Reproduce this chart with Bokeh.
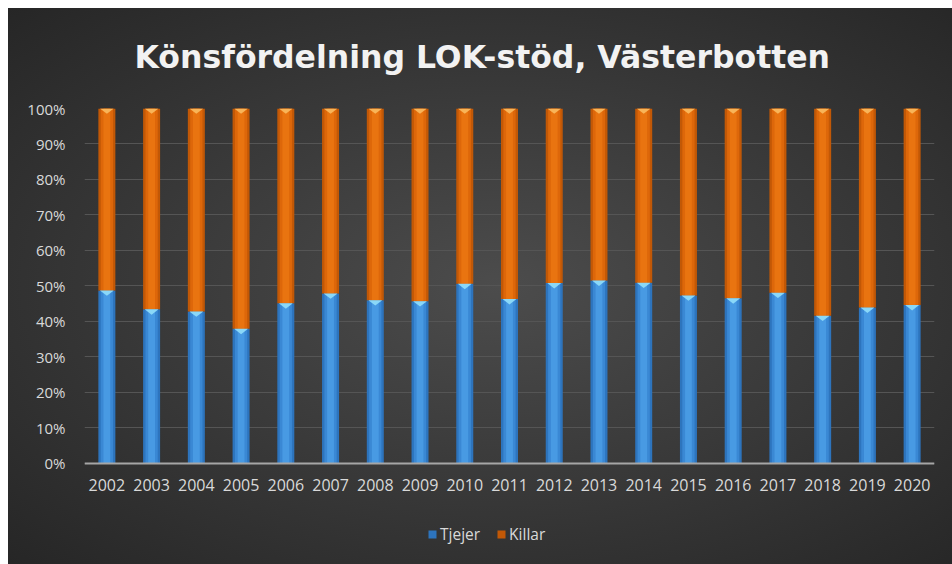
from bokeh.plotting import figure
from bokeh.models import Legend, LegendItem, PrintfTickFormatter, FixedTicker, ColumnDataSource, Range1d
from bokeh.embed import file_html
from bokeh.resources import INLINE

years = ["2002", "2003", "2004", "2005", "2006", "2007", "2008", "2009", "2010", "2011",
         "2012", "2013", "2014", "2015", "2016", "2017", "2018", "2019", "2020"]
tjejer = [48.7, 43.4, 42.8, 37.9, 45.1, 47.9, 46.0, 45.7, 50.6, 46.3,
          50.8, 51.5, 50.9, 47.3, 46.5, 48.1, 41.6, 43.9, 44.6]
killar = [51.3, 56.6, 57.2, 62.1, 54.9, 52.1, 54.0, 54.3, 49.4, 53.7,
          49.2, 48.5, 49.1, 52.7, 53.5, 51.9, 58.4, 56.1, 55.4]
y_ticks = [0, 10, 20, 30, 40, 50, 60, 70, 80, 90, 100]

idx = list(range(len(years)))
top_k = [t + k for t, k in zip(tjejer, killar)]
src = ColumnDataSource(dict(x=idx, t=tjejer, k=top_k))

FONT = "Open Sans"
# the frame reaches the bottom edge so the legend can sit under the year labels;
# the x axis is pinned at 0 %
p = figure(width=952, height=564, output_backend="svg", toolbar_location=None,
           x_range=Range1d(-0.5, len(years) - 0.5), y_range=Range1d(-28.5, 100),
           min_border_left=84, min_border_right=18, min_border_top=108, min_border_bottom=0)
p.styles = {"background": "radial-gradient(ellipse at 52% 50%, #4c4c4c 0%, #3b3b3b 45%, #262626 100%) 8px 8px / 944px 556px no-repeat, #ffffff"}
p.border_fill_color = None
p.background_fill_color = None
p.outline_line_color = None

p.title.text = "Könsfördelning LOK-stöd, Västerbotten"
p.title.align = "left"
p.title.offset = 50
p.title.text_font = "DejaVu Sans"
p.title.text_font_style = "bold"
p.title.text_font_size = "31.5px"
p.title.text_color = "#f2f2f2"
p.title.standoff = 67

W = 0.38
# Tjejer (blue) layered for a soft horizontal gradient
r_t = p.vbar(x="x", bottom=0, top="t", width=W, source=src, fill_color="#2d74bd", line_color=None)
p.vbar(x="x", bottom=0, top="t", width=W * 0.72, source=src, fill_color="#3a88d4", line_color=None)
p.vbar(x="x", bottom=0, top="t", width=W * 0.4, source=src, fill_color="#489ae3", line_color=None)
# Killar (orange)
r_k = p.vbar(x="x", bottom="t", top="k", width=W, source=src, fill_color="#c25806", line_color=None)
p.vbar(x="x", bottom="t", top="k", width=W * 0.72, source=src, fill_color="#dd670a", line_color=None)
p.vbar(x="x", bottom="t", top="k", width=W * 0.4, source=src, fill_color="#e97410", line_color=None)

# top bevel triangles
hw = 0.155
tri_t_xs = [[i - hw, i + hw, i] for i in idx]
tri_t_ys = [[t, t, t - 1.5] for t in tjejer]
tri_k_xs = [[i - hw, i + hw, i] for i in idx]
tri_k_ys = [[k, k, k - 1.5] for k in top_k]
p.patches(tri_t_xs, tri_t_ys, fill_color="#8ad8f8", line_color=None)
p.patches(tri_k_xs, tri_k_ys, fill_color="#f8b458", line_color=None)

p.xgrid.grid_line_color = None
p.ygrid.grid_line_color = "#555555"
p.ygrid.grid_line_width = 1
p.ygrid.ticker = FixedTicker(ticks=y_ticks)

p.yaxis.ticker = FixedTicker(ticks=y_ticks)
p.yaxis.formatter = PrintfTickFormatter(format="%d%%")
p.yaxis.axis_line_color = None
p.yaxis.major_tick_line_color = None
p.yaxis.minor_tick_line_color = None
p.yaxis.major_label_standoff = 13
p.yaxis.major_label_text_font = FONT
p.yaxis.major_label_text_font_size = "15px"
p.yaxis.major_label_text_color = "#d9d9d9"

p.xaxis.fixed_location = 0
p.xaxis.ticker = FixedTicker(ticks=idx)
p.xaxis.major_label_overrides = {i: y for i, y in zip(idx, years)}
p.xaxis.axis_line_color = "#a6a6a6"
p.xaxis.axis_line_width = 2
p.xaxis.major_tick_line_color = None
p.xaxis.minor_tick_line_color = None
p.xaxis.major_label_standoff = 10
p.xaxis.major_label_text_font = FONT
p.xaxis.major_label_text_font_size = "16px"
p.xaxis.major_label_text_color = "#d9d9d9"

legend = Legend(items=[LegendItem(label="Tjejer", renderers=[r_t]),
                       LegendItem(label="Killar", renderers=[r_k])],
                orientation="horizontal", location=(343, 19))
legend.background_fill_alpha = 0
legend.border_line_color = None
legend.label_text_font = FONT
legend.label_text_font_size = "15.5px"
legend.label_text_color = "#d9d9d9"
legend.glyph_width = 10
legend.glyph_height = 10
legend.label_standoff = 3
legend.spacing = 16
legend.padding = 0
legend.margin = 0
p.add_layout(legend, "center")

open("out.html", "w").write(file_html(p, INLINE))
